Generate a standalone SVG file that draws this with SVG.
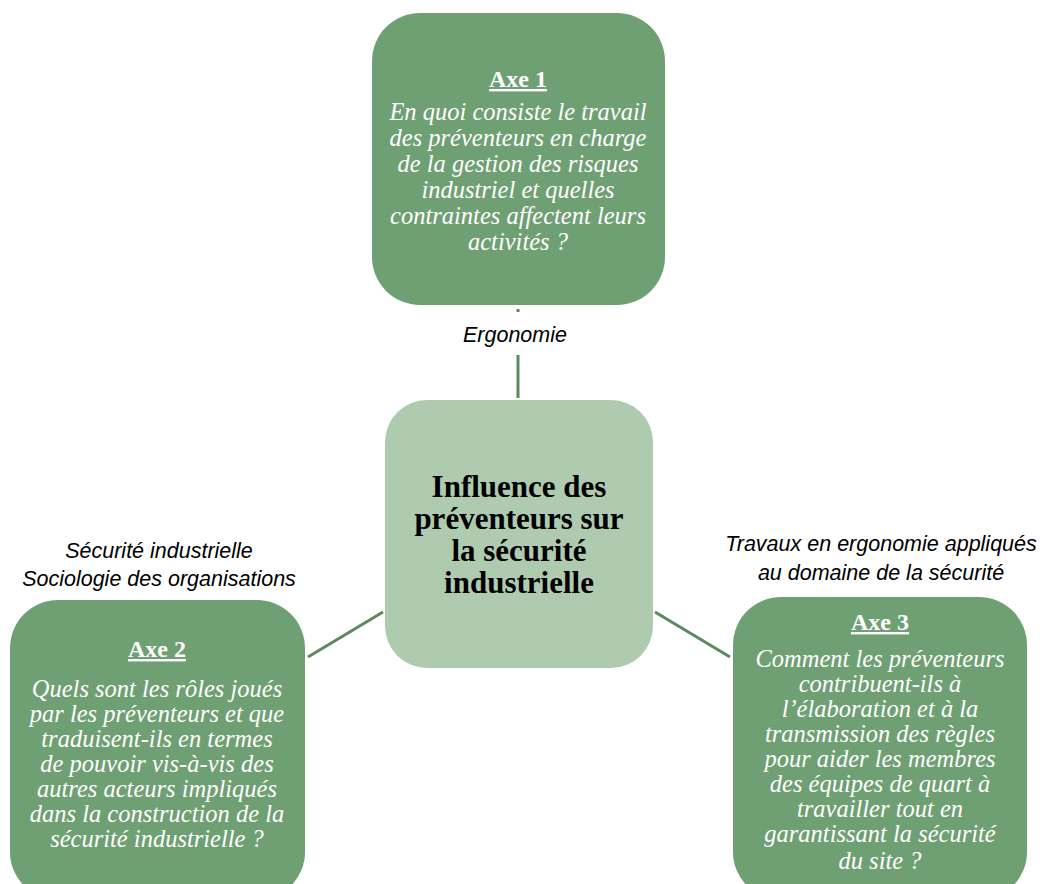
<svg xmlns="http://www.w3.org/2000/svg" width="1046" height="884" viewBox="0 0 1046 884">
<style>
.axe{fill:#6fa073;}
.ctr{fill:#aecbaf;}
.conn{stroke:#5b8a60;stroke-width:3;fill:none;}
.lbl{font-family:"Liberation Sans",Arial,sans-serif;font-style:italic;font-size:21.5px;fill:#000;text-anchor:middle;}
.ttl{font-family:"Liberation Serif","Times New Roman",serif;font-weight:bold;font-size:24px;fill:#fff;text-anchor:middle;text-decoration:underline;}
.q{font-family:"Liberation Serif","Times New Roman",serif;font-style:italic;font-size:24.5px;fill:#fff;text-anchor:middle;}
.main{font-family:"Liberation Serif","Times New Roman",serif;font-weight:bold;font-size:31px;fill:#000;text-anchor:middle;}
</style>
<rect width="1046" height="884" fill="#fff"/>
<g id="connectors">
<line class="conn" x1="518" y1="309" x2="518" y2="312"/>
<line class="conn" x1="518" y1="355" x2="518" y2="398"/>
<line class="conn" x1="308" y1="657" x2="383" y2="612"/>
<line class="conn" x1="655" y1="612" x2="730" y2="657"/>
</g>
<g id="center">
<rect class="ctr" x="385" y="400" width="268" height="268" rx="42"/>
<text class="main" x="519" y="497">Influence des</text>
<text class="main" x="519" y="529">préventeurs sur</text>
<text class="main" x="519" y="561">la sécurité</text>
<text class="main" x="519" y="593">industrielle</text>
</g>
<g id="axe1">
<rect class="axe" x="372" y="13" width="293" height="292" rx="48"/>
<text class="ttl" x="518" y="87">Axe 1</text>
<text class="q" x="518" y="120">En quoi consiste le travail</text>
<text class="q" x="518" y="146">des préventeurs en charge</text>
<text class="q" x="518" y="172">de la gestion des risques</text>
<text class="q" x="518" y="198">industriel et quelles</text>
<text class="q" x="518" y="224">contraintes affectent leurs</text>
<text class="q" x="518" y="250">activités ?</text>
</g>
<g id="label-ergonomie">
<text class="lbl" x="515" y="342">Ergonomie</text>
</g>
<g id="axe2">
<rect class="axe" x="10" y="600" width="295" height="300" rx="48"/>
<text class="ttl" x="157" y="657">Axe 2</text>
<text class="q" x="157" y="697">Quels sont les rôles joués</text>
<text class="q" x="157" y="722">par les préventeurs et que</text>
<text class="q" x="157" y="747">traduisent-ils en termes</text>
<text class="q" x="157" y="772">de pouvoir vis-à-vis des</text>
<text class="q" x="157" y="797">autres acteurs impliqués</text>
<text class="q" x="157" y="822">dans la construction de la</text>
<text class="q" x="157" y="847">sécurité industrielle ?</text>
</g>
<g id="label-axe2">
<text class="lbl" x="159" y="558">Sécurité industrielle</text>
<text class="lbl" x="159" y="586">Sociologie des organisations</text>
</g>
<g id="axe3">
<rect class="axe" x="733" y="597" width="294" height="303" rx="48"/>
<text class="ttl" x="880" y="630">Axe 3</text>
<text class="q" x="880" y="667">Comment les préventeurs</text>
<text class="q" x="880" y="692">contribuent-ils à</text>
<text class="q" x="880" y="717">l’élaboration et à la</text>
<text class="q" x="880" y="742">transmission des règles</text>
<text class="q" x="880" y="767">pour aider les membres</text>
<text class="q" x="880" y="792">des équipes de quart à</text>
<text class="q" x="880" y="817">travailler tout en</text>
<text class="q" x="880" y="842">garantissant la sécurité</text>
<text class="q" x="880" y="869">du site ?</text>
</g>
<g id="label-axe3">
<text class="lbl" x="881" y="551">Travaux en ergonomie appliqués</text>
<text class="lbl" x="881" y="580">au domaine de la sécurité</text>
</g>
</svg>
